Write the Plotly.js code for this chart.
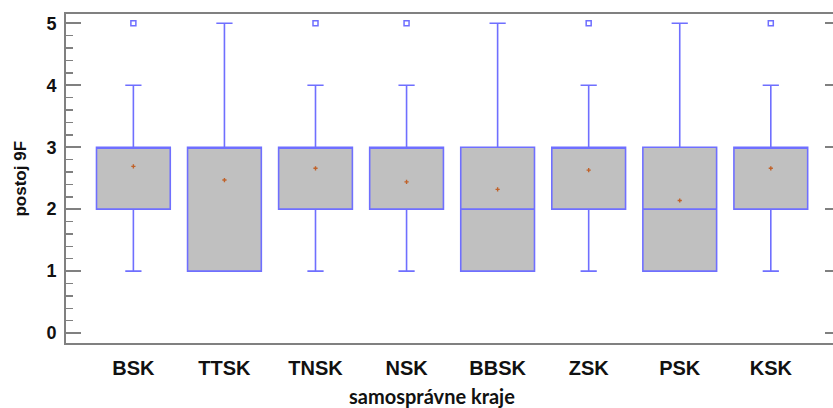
<!DOCTYPE html>
<html>
<head>
<meta charset="utf-8">
<script src="https://cdn.plot.ly/plotly-3.0.1.min.js"></script>
<style>
html,body{margin:0;padding:0;overflow:hidden;background:#fff;}
#chart{width:850px;height:408px;}
</style>
</head>
<body>
<div id="chart"></div>
<script>
var categories = ["BSK", "TTSK", "TNSK", "NSK", "BBSK", "ZSK", "PSK", "KSK"];
var q1Values = [2, 1, 2, 2, 1, 2, 1, 2];
var medianValues = [3, 3, 3, 3, 2, 3, 2, 3];
var q3Values = [3, 3, 3, 3, 3, 3, 3, 3];
var lowerWhisker = [1, 1, 1, 1, 1, 1, 1, 1];
var upperWhisker = [4, 5, 4, 4, 5, 4, 5, 4];
var meanValues = [2.69, 2.47, 2.66, 2.44, 2.32, 2.63, 2.14, 2.66];
var outlierCategories = ["BSK", "TNSK", "NSK", "ZSK", "KSK"];
var outlierValues = [5, 5, 5, 5, 5];
var yTickValues = [0, 1, 2, 3, 4, 5];

var boxColor = "#6f6fff";
var traces = [
  {
    type: "box",
    x: categories,
    q1: q1Values,
    median: medianValues,
    q3: q3Values,
    lowerfence: lowerWhisker,
    upperfence: upperWhisker,
    fillcolor: "#c0c0c0",
    line: {color: boxColor, width: 1.6},
    width: 0.81,
    whiskerwidth: 0.22,
    boxpoints: false,
    hoverinfo: "skip",
    showlegend: false
  },
  {
    type: "scatter",
    mode: "markers",
    x: meanValues.map(function(v, i){ return categories[i]; }),
    y: meanValues,
    marker: {symbol: "cross", size: 3.5, color: "#c0622a"},
    hoverinfo: "skip",
    showlegend: false
  },
  {
    type: "scatter",
    mode: "markers",
    x: outlierCategories,
    y: outlierValues,
    marker: {symbol: "square-open", size: 5, color: boxColor, line: {width: 1.5, color: boxColor}},
    hoverinfo: "skip",
    showlegend: false
  }
];

var layout = {
  width: 850,
  height: 408,
  margin: {l: 66, r: 10, t: 14, b: 65},
  paper_bgcolor: "#ffffff",
  plot_bgcolor: "#ffffff",
  showlegend: false,
  xaxis: {
    type: "category",
    range: [-0.74, 7.76],
    showgrid: false,
    zeroline: false,
    showline: true,
    linecolor: "#808080",
    linewidth: 2,
    mirror: true,
    ticks: "",
    ticklabelstandoff: 6,
    tickfont: {family: "Liberation Sans, Arial, sans-serif", size: 20, color: "#111111", weight: "bold"}
  },
  yaxis: {
    range: [-0.16, 5.15],
    tickvals: yTickValues,
    ticktext: yTickValues.map(String),
    showgrid: false,
    zeroline: false,
    showline: true,
    linecolor: "#808080",
    linewidth: 2,
    mirror: "ticks",
    ticks: "inside",
    ticklen: 15,
    tickwidth: 2,
    tickcolor: "#808080",
    minor: {dtick: 0.2, ticks: "inside", ticklen: 7, tickwidth: 1.5, tickcolor: "#808080", showgrid: false},
    ticklabelstandoff: 4,
    tickfont: {family: "Liberation Sans, Arial, sans-serif", size: 18, color: "#111111", weight: "bold"}
  },
  annotations: [
    {
      text: "samosprávne kraje",
      xref: "paper", yref: "paper",
      x: 0.473, y: -0.162,
      xanchor: "center", yanchor: "middle",
      showarrow: false,
      font: {family: "Lato, sans-serif", size: 20, color: "#111111", weight: "bold"}
    },
    {
      text: "postoj 9F",
      xref: "paper", yref: "paper",
      x: -0.0594, y: 0.5,
      xanchor: "center", yanchor: "middle",
      textangle: -90,
      showarrow: false,
      font: {family: "Liberation Sans, Arial, sans-serif", size: 17, color: "#111111", weight: "bold"}
    }
  ]
};

Plotly.newPlot("chart", traces, layout, {staticPlot: true, displayModeBar: false});
</script>
</body>
</html>
